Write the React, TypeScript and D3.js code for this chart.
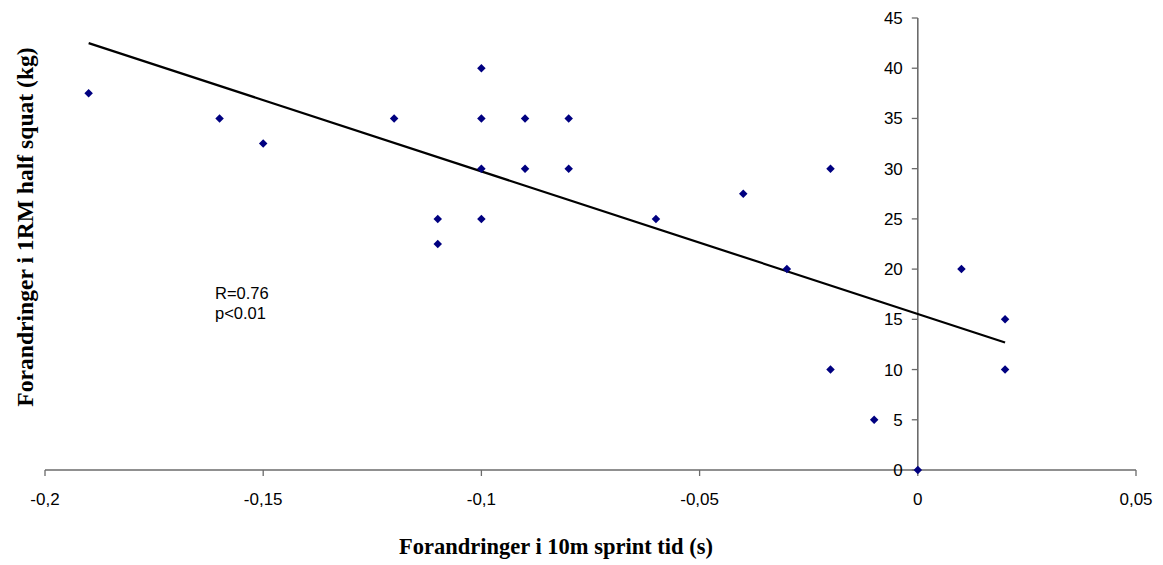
import React from "react";
import * as d3 from "d3";

const xValues = [-0.19, -0.16, -0.15, -0.12, -0.11, -0.11, -0.1, -0.1, -0.1, -0.1, -0.09, -0.09, -0.08, -0.08, -0.06, -0.04, -0.03, -0.02, -0.02, -0.01, 0, 0.01, 0.02, 0.02];
const yValues = [37.5, 35, 32.5, 35, 25, 22.5, 40, 35, 30, 25, 35, 30, 35, 30, 25, 27.5, 20, 30, 10, 5, 0, 20, 15, 10];
const trendX = [-0.19, 0.02];
const trendY = [42.5, 12.7];
const xTicks = [-0.2, -0.15, -0.1, -0.05, 0, 0.05];
const xTickLabels = ["-0,2", "-0,15", "-0,1", "-0,05", "0", "0,05"];
const yTicks = [0, 5, 10, 15, 20, 25, 30, 35, 40, 45];

export default function App() {
  const W = 1163, H = 565;
  const x = d3.scaleLinear().domain([-0.2, 0.05]).range([45, 1136]);
  const y = d3.scaleLinear().domain([0, 45]).range([470, 18]);
  const x0 = x(0), y0 = y(0);
  const diamond = d3.symbol().type(d3.symbolDiamond2).size(46)();
  const line = d3.line<number>().x((d, i) => x(trendX[i])).y((d, i) => y(trendY[i]));
  const axisColor = "#6b6b6b";
  const sans = "Arial, Liberation Sans, sans-serif";
  const serif = "Liberation Serif, Times New Roman, serif";
  return (
    <svg width={W} height={H} style={{ position: "absolute", left: 0, top: 0, background: "#fff" }}>
      <line x1={x(-0.2)} x2={x(0.05)} y1={y0} y2={y0} stroke={axisColor} strokeWidth={1.6} />
      <line x1={x0} x2={x0} y1={y(45)} y2={y0} stroke={axisColor} strokeWidth={1.6} />
      {xTicks.map((t, i) => (
        <g key={"xt" + i}>
          <line x1={x(t)} x2={x(t)} y1={y0} y2={y0 + 6} stroke={axisColor} strokeWidth={1.3} />
          <text x={x(t)} y={y0 + 35} textAnchor="middle" fontFamily={sans} fontSize={17} fill="#000">{xTickLabels[i]}</text>
        </g>
      ))}
      {yTicks.map((t, i) => (
        <g key={"yt" + i}>
          <line x1={x0 - 6} x2={x0} y1={y(t)} y2={y(t)} stroke={axisColor} strokeWidth={1.3} />
          <text x={x0 - 15} y={y(t)} dy="0.35em" textAnchor="end" fontFamily={sans} fontSize={17} fill="#000">{t}</text>
        </g>
      ))}
      <path d={line(trendX) || ""} fill="none" stroke="#000" strokeWidth={2.2} />
      {xValues.map((v, i) => (
        <path key={"p" + i} d={diamond || ""} transform={`translate(${x(v)},${y(yValues[i])})`} fill="#000080" />
      ))}
      <text x={215} y={299} fontFamily={sans} fontSize={16.5} fill="#000">R=0.76</text>
      <text x={215} y={319} fontFamily={sans} fontSize={16.5} fill="#000">p&lt;0.01</text>
      <text x={556} y={554} textAnchor="middle" fontFamily={serif} fontWeight="bold" fontSize={22.5} fill="#000">Forandringer i 10m sprint tid (s)</text>
      <text transform="translate(33,227) rotate(-90)" textAnchor="middle" fontFamily={serif} fontWeight="bold" fontSize={23.6} fill="#000">Forandringer i 1RM half squat (kg)</text>
    </svg>
  );
}
